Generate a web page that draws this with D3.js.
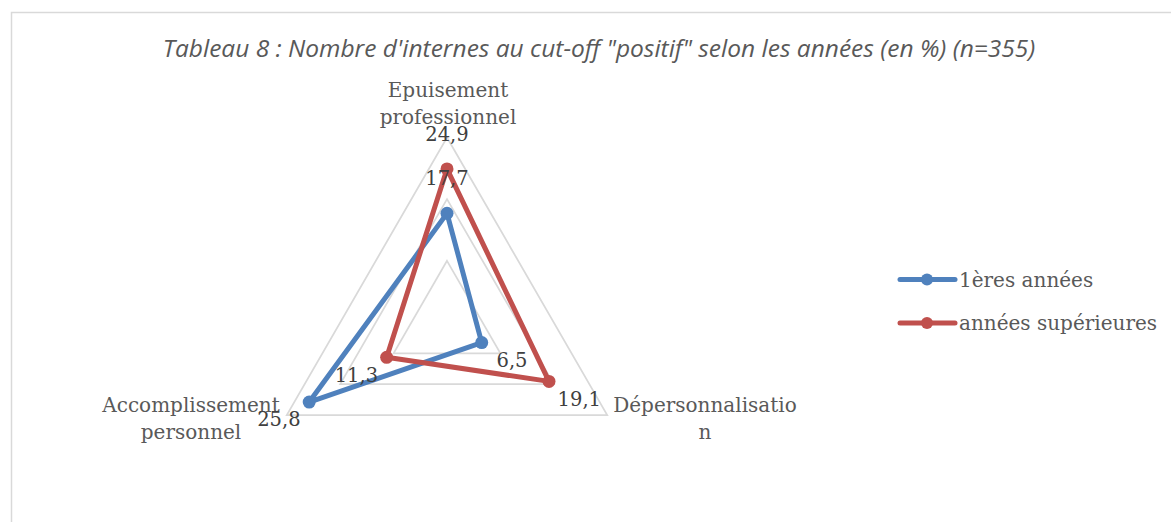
<!DOCTYPE html>
<html lang="fr">
<head>
<meta charset="UTF-8">
<script src="https://d3js.org/d3.v7.min.js"></script>
<style>
    body { margin: 0; background: #fff; }
    svg { display: block; }
    .title { font-family: "Open Sans", Lato, sans-serif; font-style: italic; font-size: 24.5px; fill: #595959; }
    .axis-label { font-family: "DejaVu Serif", serif; font-size: 20px; fill: #595959; }
    .data-label { font-family: "DejaVu Serif", serif; font-size: 19.5px; fill: #404040; }
    .legend-text { font-family: "DejaVu Serif", serif; font-size: 20px; fill: #595959; }
</style>
<title>Tableau 8</title>
</head>
<body>
<script>
    // data
    var axisNames = [["Epuisement", "professionnel"], ["Dépersonnalisatio", "n"], ["Accomplissement", "personnel"]];
    var seriesNames = ["1ères années", "années supérieures"];
    var firstYears = [17.7, 6.5, 25.8];
    var upperYears = [24.9, 19.1, 11.3];
    var gridTicks = [10, 20, 30];
    var colors = ["#4f81bd", "#c0504d"];
    var titleText = "Tableau 8 : Nombre d'internes au cut-off \"positif\" selon les années (en %) (n=355)";

    var width = 1171, height = 522;
    var cx = 447, cy = 322.5;

    var svg = d3.select("body").append("svg")
        .attr("width", width)
        .attr("height", height);

    // chart area border (cropped on the right and bottom)
    svg.append("rect")
        .attr("x", 11.5).attr("y", 12.5)
        .attr("width", 1300).attr("height", 700)
        .attr("fill", "none")
        .attr("stroke", "#d9d9d9")
        .attr("stroke-width", 1.5);

    svg.append("text")
        .attr("class", "title")
        .attr("x", 599).attr("y", 57)
        .attr("text-anchor", "middle")
        .text(titleText);

    var r = d3.scaleLinear().domain([0, 30]).range([0, 185]);
    var angle = d3.scalePoint().domain([0, 1, 2, 3]).range([-Math.PI / 2, 3 * Math.PI / 2]);

    function pt(i, v) {
        var a = angle(i);
        return [cx + r(v) * Math.cos(a), cy + r(v) * Math.sin(a)];
    }

    // grid triangles
    svg.selectAll(".grid")
        .data(gridTicks)
        .enter().append("polygon")
        .attr("class", "grid")
        .attr("points", function (t) {
            return [0, 1, 2].map(function (i) { return pt(i, t).join(","); }).join(" ");
        })
        .attr("fill", "none")
        .attr("stroke", "#d9d9d9")
        .attr("stroke-width", 1.75);

    // axis labels
    var maxVal = r.domain()[1];
    axisNames.forEach(function (lines, i) {
        var p = pt(i, maxVal);
        var g = svg.append("text").attr("class", "axis-label").attr("text-anchor", "middle");
        var spans = lines.map(function (l, j) {
            return g.append("tspan").text(l);
        });
        if (i === 0) {
            spans.forEach(function (s, j) {
                s.attr("x", p[0] + 1).attr("y", p[1] - 13.5 - (lines.length - 1 - j) * 27);
            });
        } else {
            var w = d3.max(spans, function (s) { return s.node().getComputedTextLength(); });
            var x = i === 1 ? p[0] + 6 + w / 2 : p[0] - 7 - w / 2;
            spans.forEach(function (s, j) {
                s.attr("x", x).attr("y", p[1] - 3 + j * 27);
            });
        }
    });

    var line = d3.line().curve(d3.curveLinearClosed);
    var series = [firstYears, upperYears];

    series.forEach(function (vals, k) {
        var pts = vals.map(function (v, i) { return pt(i, v); });
        svg.append("path")
            .attr("d", line(pts))
            .attr("fill", "none")
            .attr("stroke", colors[k])
            .attr("stroke-width", 5)
            .attr("stroke-linejoin", "round");
        svg.selectAll(".m" + k)
            .data(pts)
            .enter().append("circle")
            .attr("class", "m" + k)
            .attr("cx", function (d) { return d[0]; })
            .attr("cy", function (d) { return d[1]; })
            .attr("r", 6.5)
            .attr("fill", colors[k]);
    });

    // data labels, pushed outward along each axis
    series.forEach(function (vals) {
        vals.forEach(function (v, i) {
            var a = angle(i);
            var d = r(v) + 35;
            svg.append("text")
                .attr("class", "data-label")
                .attr("x", cx + d * Math.cos(a))
                .attr("y", cy + d * Math.sin(a))
                .attr("dy", "0.35em")
                .attr("text-anchor", "middle")
                .text(String(v).replace(".", ","));
        });
    });

    // legend
    var legend = svg.selectAll(".legend")
        .data(seriesNames)
        .enter().append("g")
        .attr("class", "legend")
        .attr("transform", function (d, i) { return "translate(900," + (279.5 + i * 43.5) + ")"; });

    legend.append("line")
        .attr("x1", 0).attr("x2", 55)
        .attr("stroke", function (d, i) { return colors[i]; })
        .attr("stroke-width", 5)
        .attr("stroke-linecap", "round");
    legend.append("circle")
        .attr("cx", 27).attr("r", 6)
        .attr("fill", function (d, i) { return colors[i]; });
    legend.append("text")
        .attr("class", "legend-text")
        .attr("x", 59).attr("dy", "0.35em")
        .text(function (d) { return d; });
</script>
</body>
</html>
